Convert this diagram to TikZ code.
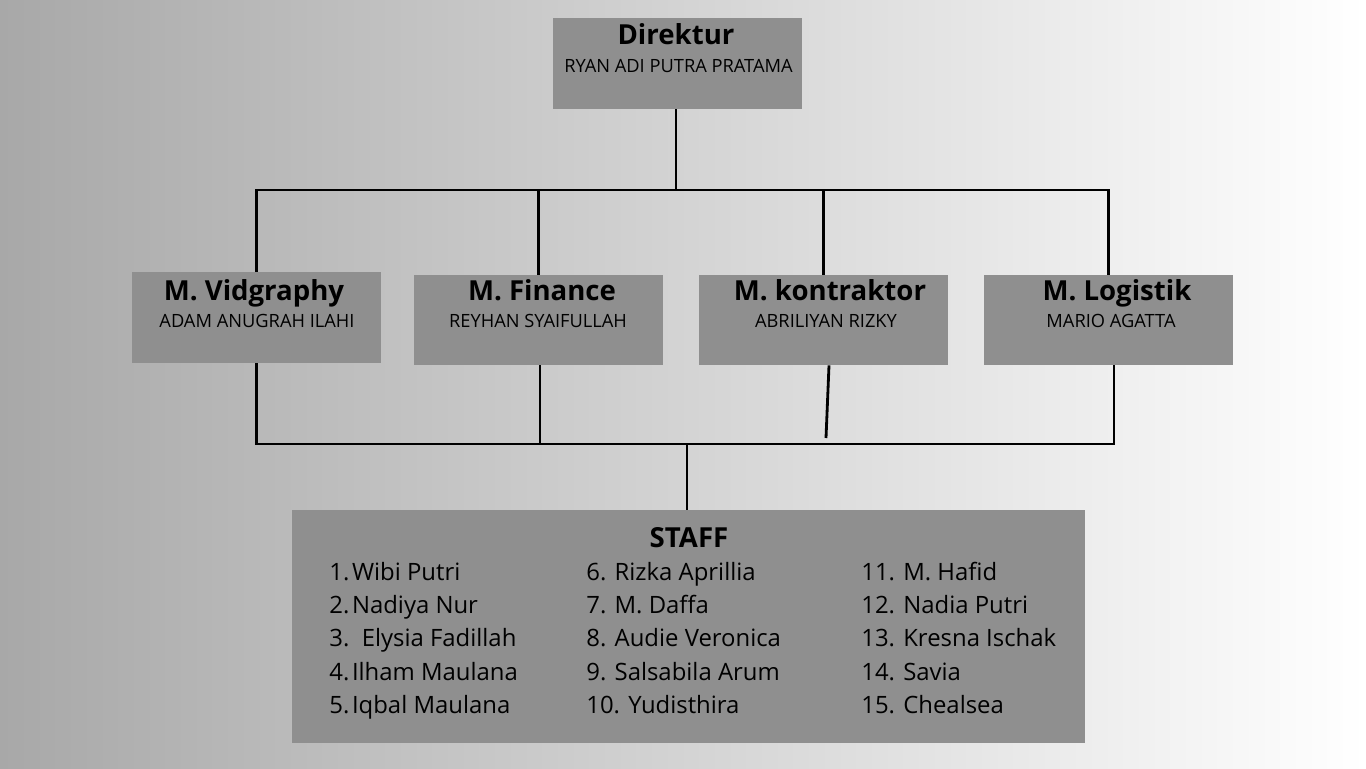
\documentclass[tikz,border=0pt]{standalone}
\usepackage{fontspec}
\setmainfont{Open Sans}
\usetikzlibrary{calc}
\definecolor{boxgray}{RGB}{143,143,143}
\definecolor{bgleft}{RGB}{168,168,168}
\tikzset{
  orgbox/.style={rectangle, fill=boxgray, inner sep=0pt},
  headtext/.style={anchor=base, inner sep=0pt, font=\fontsize{15.7}{18}\selectfont\bfseries},
  nametext/.style={anchor=base, inner sep=0pt, font=\fontsize{10.4}{12}\selectfont},
  stafftext/.style={anchor=base west, inner sep=0pt, font=\fontsize{13.6}{16}\selectfont},
  wire/.style={line width=1.6pt, black}
}
\newcommand{\orgbox}[4] {\node[orgbox, minimum width=#3*0.02cm, minimum height=#4*0.02cm] at (#1) (#2) {};}
\newcommand{\orghead}[2] {\node[headtext] at (#1) {#2};}
\newcommand{\orgname}[2] {\node[nametext] at (#1) {#2};}
\newcommand{\staffitem}[2] {\node[stafftext] at (#1) {#2};}

\begin{document}
\begin{tikzpicture}[x=0.02cm, y=-0.02cm]
\shade[left color=bgleft, right color=white] (0,0) rectangle (1366,768);
\useasboundingbox (0,0) rectangle (1366,768);

% boxes
\orgbox {677.5,63.5} {dir} {249} {91};
\orgbox {256.5,317.5} {vid} {249} {91};
\orgbox {538.5,320} {fin} {249} {90};
\orgbox {823.5,320} {kon} {249} {90};
\orgbox {1108.5,320} {log} {249} {90};
\orgbox {688.5,626.5} {staff} {793} {233};

% bus lines
\coordinate (bustop) at (677,190);
\coordinate (busbot) at (687,444);
\coordinate (konend) at (826,438);

\draw [wire] ($(dir.south)+(-1.5,0)$) -- ($(dir.south |- bustop)+(-1.5,0)$);
\draw [wire] (vid.north) -- (vid.north |- bustop) -- (log.north |- bustop) -- (log.north);
\draw [wire] (fin.north) -- (fin.north |- bustop);
\draw [wire] (kon.north) -- (kon.north |- bustop);

\draw [wire] (vid.south) -- (vid.south |- busbot) -- ($(log.south |- busbot)+(5.5,0)$) -- ($(log.south)+(5.5,0)$);
\draw [wire] ($(fin.south)+(1.5,0)$) -- ($(fin.south |- busbot)+(1.5,0)$);
\draw [wire] ($(kon.south)+(5.5,0)$) -- (konend);
\draw [wire] (busbot) -- (busbot |- staff.north);

% texts
\orghead {676,44} {Direktur}
\orgname {678.5,72} {RYAN ADI PUTRA PRATAMA}

\orghead {254,300} {M. Vidgraphy}
\orgname {257,327} {ADAM ANUGRAH ILAHI}
\orghead {542,300} {M. Finance}
\orgname {538,327} {REYHAN SYAIFULLAH}
\orghead {830,300} {M. kontraktor}
\orgname {826,327} {ABRILIYAN RIZKY}
\orghead {1117,300} {M. Logistik}
\orgname {1111,327} {MARIO AGATTA}

\orghead {689,547} {STAFF}

\staffitem {329,580} {1.\kern1.5pt Wibi Putri}
\staffitem {329,613.3} {2.\kern1.5pt Nadiya Nur}
\staffitem {329,646.7} {3.\ \ Elysia Fadillah}
\staffitem {329,680} {4.\kern1.5pt Ilham Maulana}
\staffitem {329,713.3} {5.\kern1.5pt Iqbal Maulana}

\staffitem {586,580} {6. Rizka Aprillia}
\staffitem {586,613.3} {7. M. Daffa}
\staffitem {586,646.7} {8. Audie Veronica}
\staffitem {586,680} {9. Salsabila Arum}
\staffitem {586,713.3} {10. Yudisthira}

\staffitem {861,580} {11. M. Hafid}
\staffitem {861,613.3} {12. Nadia Putri}
\staffitem {861,646.7} {13. Kresna Ischak}
\staffitem {861,680} {14. Savia}
\staffitem {861,713.3} {15. Chealsea}
\end{tikzpicture}
\end{document}
